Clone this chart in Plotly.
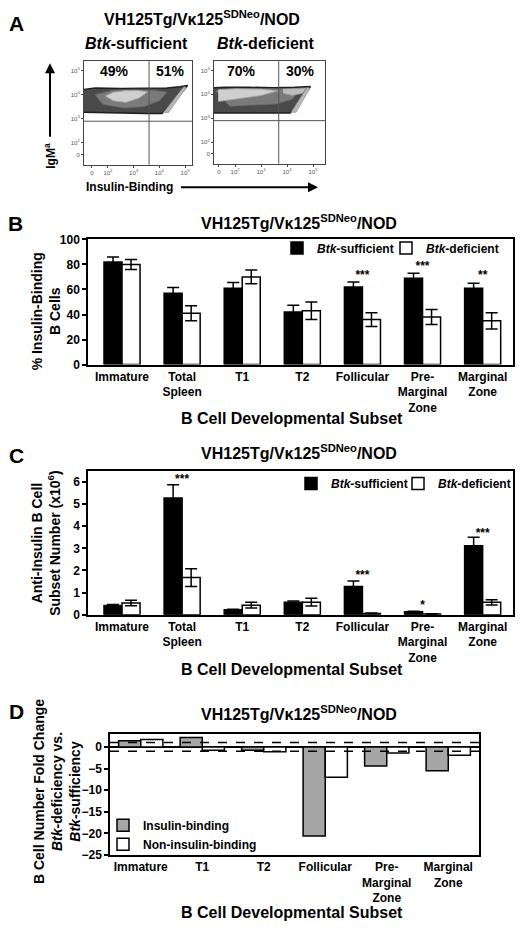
import plotly.graph_objects as go

W, H = 520, 933
FONT = "Liberation Sans, Arial, sans-serif"

# ---------------- data ----------------
# Panel A (flow cytometry, decade coordinates)
flow_xtick_vals = [1.38, 2, 3, 4, 5]
flow_ytick_vals = [1.51, 2, 3, 4, 5]
flow_tick_text = ["0", "10<sup>2</sup>", "10<sup>3</sup>", "10<sup>4</sup>", "10<sup>5</sup>"]
gate_x_suff = 3.6
gate_x_def = 3.68
gate_y = 2.9
pct_labels_suff = ["49%", "51%"]
pct_labels_def = ["70%", "30%"]

outer_suff_x = [1.07, 1.5, 2.5, 3.5, 4.3, 4.8, 5.1, 4.8, 4.4, 4.1, 3.5, 2.5, 1.5, 1.07]
outer_suff_y = [4.22, 4.28, 4.26, 4.27, 4.28, 4.33, 4.38, 4.0, 3.55, 3.22, 3.22, 3.24, 3.25, 3.27]
mid_suff_x = [1.5, 2.2, 3.0, 3.8, 4.3, 4.0, 3.4, 2.6, 1.8, 1.5]
mid_suff_y = [4.0, 4.18, 4.2, 4.18, 4.1, 3.75, 3.5, 3.45, 3.6, 4.0]
core_suff_x = [1.9, 2.2, 2.7, 3.2, 3.55, 3.2, 2.7, 2.2, 1.9]
core_suff_y = [3.95, 4.1, 4.17, 4.17, 4.12, 3.85, 3.68, 3.75, 3.95]
streak_suff_x = [4.15, 4.35, 5.05, 4.95, 4.15]
streak_suff_y = [3.25, 3.25, 4.3, 4.33, 3.25]

outer_def_x = [1.19, 1.6, 2.5, 3.5, 4.3, 4.75, 4.9, 4.65, 4.35, 4.12, 3.5, 2.5, 1.6, 1.19]
outer_def_y = [4.28, 4.3, 4.3, 4.28, 4.3, 4.3, 4.33, 3.95, 3.55, 3.22, 3.22, 3.22, 3.22, 3.22]
mid_def_x = [1.25, 2.0, 3.0, 3.9, 4.5, 4.2, 3.6, 2.6, 1.8, 1.25]
mid_def_y = [4.15, 4.24, 4.24, 4.24, 4.2, 3.8, 3.6, 3.55, 3.5, 4.15]
core_def_x = [1.35, 2.0, 3.0, 3.65, 3.0, 2.0, 1.35]
core_def_y = [4.2, 4.23, 4.22, 4.15, 3.95, 3.78, 3.7]
patch_def_x = [3.85, 4.3, 4.75, 4.6, 4.2, 3.85]
patch_def_y = [4.22, 4.26, 4.27, 4.05, 3.95, 4.05]
streak_def_x = [4.15, 4.35, 4.88, 4.78, 4.15]
streak_def_y = [3.25, 3.25, 4.25, 4.3, 3.25]

# Panels B and C
categories_bc = ["Immature", "Total<br>Spleen", "T1", "T2", "Follicular",
                 "Pre-<br>Marginal<br>Zone", "Marginal<br>Zone"]
pct_suff = [82, 57, 61, 42, 62, 69, 61]
pct_suff_err = [4, 4.5, 4.5, 5.5, 4, 4, 4]
pct_def = [80, 41, 70, 43, 36, 38, 35]
pct_def_err = [4, 6, 5.5, 7, 5.5, 6, 6.5]
pct_stars = ["", "", "", "", "***", "***", "**"]
pct_star_y = [None, None, None, None, 71, 78, 71]

num_suff = [0.42, 5.28, 0.22, 0.57, 1.28, 0.13, 3.12]
num_suff_err = [0.04, 0.6, 0.03, 0.05, 0.25, 0.03, 0.38]
num_def = [0.53, 1.68, 0.43, 0.57, 0.06, 0.03, 0.56]
num_def_err = [0.12, 0.4, 0.13, 0.18, 0.02, 0.01, 0.12]
num_stars = ["", "***", "", "", "***", "*", "***"]
num_star_y = [None, 6.1, None, None, 1.75, 0.38, 3.65]

# Panel D
categories_d = ["Immature", "T1", "T2", "Follicular",
                "Pre-<br>Marginal<br>Zone", "Marginal<br>Zone"]
fold_ins = [1.4, 2.2, -0.8, -20.6, -4.4, -5.5]
fold_non = [1.7, -0.8, -1.1, -7.0, -1.4, -1.9]
fold_thresholds = [1, -1]

TITLE = "VH125Tg/Vκ125<sup>SDNeo</sup>/NOD"


def xd(a, b):
    return [a / W, b / W]


def yd(top, bottom):
    return [1 - bottom / H, 1 - top / H]


def px(x):
    return x / W


def py(y):
    return 1 - y / H


fig = go.Figure()


# ---------------- Panel A polygons ----------------
def poly(xs, ys, fill, line, lw, xa, ya):
    fig.add_trace(go.Scatter(x=xs, y=ys, mode="lines", fill="toself", fillcolor=fill,
                             line=dict(color=line, width=lw), xaxis=xa, yaxis=ya,
                             showlegend=False, hoverinfo="skip"))


poly(outer_suff_x, outer_suff_y, "#4a4a4a", "#1e1e1e", 1.4, "x", "y")
poly(mid_suff_x, mid_suff_y, "#7a7a7a", "#6a6a6a", 0.6, "x", "y")
poly(core_suff_x, core_suff_y, "#cfcfcf", "#a0a0a0", 0.8, "x", "y")
poly(streak_suff_x, streak_suff_y, "#b8b8b8", "#888888", 0.6, "x", "y")

poly(outer_def_x, outer_def_y, "#4a4a4a", "#1e1e1e", 1.4, "x2", "y2")
poly(mid_def_x, mid_def_y, "#7a7a7a", "#6a6a6a", 0.6, "x2", "y2")
poly(core_def_x, core_def_y, "#cfcfcf", "#a0a0a0", 0.8, "x2", "y2")
poly(patch_def_x, patch_def_y, "#bdbdbd", "#9a9a9a", 0.6, "x2", "y2")
poly(streak_def_x, streak_def_y, "#b8b8b8", "#888888", 0.6, "x2", "y2")


def stars_trace(cats, ys, labels, xa, ya):
    sx = [c for c, s in zip(cats, labels) if s]
    sy = [v for v, s in zip(ys, labels) if s]
    st = [s for s in labels if s]
    fig.add_trace(go.Scatter(x=sx, y=sy, text=st, mode="text",
                             textfont=dict(size=12, color="black", family=FONT, weight="bold"),
                             xaxis=xa, yaxis=ya, showlegend=False, hoverinfo="skip"))


# ---------------- Panel B ----------------
bw_bc = 0.3
fig.add_trace(go.Bar(x=categories_bc, y=pct_suff, width=bw_bc, offset=-bw_bc,
                     marker=dict(color="black", line=dict(color="black", width=1.5)),
                     error_y=dict(type="data", array=pct_suff_err, color="black", thickness=1.5, width=6),
                     name="<i>Btk</i>-sufficient", xaxis="x3", yaxis="y3", legend="legend"))
fig.add_trace(go.Bar(x=categories_bc, y=pct_def, width=bw_bc, offset=0,
                     marker=dict(color="white", line=dict(color="black", width=1.5)),
                     error_y=dict(type="data", array=pct_def_err, color="black", thickness=1.5, width=6),
                     name="<i>Btk</i>-deficient", xaxis="x3", yaxis="y3", legend="legend4"))
stars_trace(categories_bc, pct_star_y, pct_stars, "x3", "y3")

# ---------------- Panel C ----------------
fig.add_trace(go.Bar(x=categories_bc, y=num_suff, width=bw_bc, offset=-bw_bc,
                     marker=dict(color="black", line=dict(color="black", width=1.5)),
                     error_y=dict(type="data", array=num_suff_err, color="black", thickness=1.5, width=6),
                     name="<i>Btk</i>-sufficient", xaxis="x4", yaxis="y4", legend="legend2"))
fig.add_trace(go.Bar(x=categories_bc, y=num_def, width=bw_bc, offset=0,
                     marker=dict(color="white", line=dict(color="black", width=1.5)),
                     error_y=dict(type="data", array=num_def_err, color="black", thickness=1.5, width=6),
                     name="<i>Btk</i>-deficient", xaxis="x4", yaxis="y4", legend="legend5"))
stars_trace(categories_bc, num_star_y, num_stars, "x4", "y4")

# ---------------- Panel D ----------------
bw_d = 0.36
fig.add_trace(go.Bar(x=categories_d, y=fold_ins, width=bw_d, offset=-bw_d,
                     marker=dict(color="#a6a6a6", line=dict(color="black", width=1.5)),
                     name="Insulin-binding", xaxis="x5", yaxis="y5", legend="legend3"))
fig.add_trace(go.Bar(x=categories_d, y=fold_non, width=bw_d, offset=0,
                     marker=dict(color="white", line=dict(color="black", width=1.5)),
                     name="Non-insulin-binding", xaxis="x5", yaxis="y5", legend="legend3"))

# ---------------- axes ----------------
flow_ax = dict(showline=True, mirror=True, linecolor="#444444", linewidth=1, showgrid=False,
               zeroline=False, ticks="outside", ticklen=2, tickcolor="#444444",
               tickfont=dict(size=6, color="#555555", family=FONT))
fig.update_layout(
    xaxis=dict(domain=xd(84, 192), range=[1.07, 5.27], anchor="y",
               tickvals=flow_xtick_vals, ticktext=flow_tick_text, **flow_ax),
    yaxis=dict(domain=yd(55, 160), range=[1.1, 5.39], anchor="x",
               tickvals=flow_ytick_vals, ticktext=flow_tick_text, **flow_ax),
    xaxis2=dict(domain=xd(214, 325), range=[1.19, 5.46], anchor="y2",
                tickvals=flow_xtick_vals, ticktext=flow_tick_text, **flow_ax),
    yaxis2=dict(domain=yd(55, 159), range=[1.1, 5.39], anchor="x2",
                tickvals=flow_ytick_vals, ticktext=flow_tick_text, **flow_ax),
)

bar_x = dict(showline=True, mirror=True, linecolor="black", linewidth=1.5, showgrid=False,
             zeroline=False, ticks="", type="category",
             tickfont=dict(size=12, color="black", family=FONT, weight="bold"))
bar_y = dict(showline=True, mirror=True, linecolor="black", linewidth=1.5, showgrid=False,
             ticks="outside", ticklen=4, tickwidth=1.5, tickcolor="black",
             tickfont=dict(size=12, color="black", family=FONT, weight="bold"))
fig.update_layout(
    xaxis3=dict(domain=xd(88, 513), anchor="y3", range=[-0.566, 6.505], **bar_x),
    yaxis3=dict(domain=yd(236, 363), range=[0, 100], anchor="x3", tickvals=[0, 20, 40, 60, 80, 100],
                zeroline=False, **bar_y),
    xaxis4=dict(domain=xd(88, 513), anchor="y4", range=[-0.566, 6.505], **bar_x),
    yaxis4=dict(domain=yd(471, 617), range=[0, 6.5], anchor="x4", tickvals=[0, 1, 2, 3, 4, 5, 6],
                zeroline=False, **bar_y),
    xaxis5=dict(domain=xd(110, 479), anchor="y5", **bar_x),
    yaxis5=dict(domain=yd(738, 861), range=[-25, 3], anchor="x5", tickvals=[0, -5, -10, -15, -20, -25],
                zeroline=True, zerolinecolor="black", zerolinewidth=1.5, **bar_y),
)

shapes = []
# flow gates
shapes.append(dict(type="line", xref="x", yref="y domain", x0=gate_x_suff, x1=gate_x_suff, y0=0, y1=1,
                   line=dict(color="#555555", width=1)))
shapes.append(dict(type="line", xref="x domain", yref="y", x0=0, x1=1, y0=gate_y, y1=gate_y,
                   line=dict(color="#555555", width=1)))
shapes.append(dict(type="line", xref="x2", yref="y2 domain", x0=gate_x_def, x1=gate_x_def, y0=0, y1=1,
                   line=dict(color="#555555", width=1)))
shapes.append(dict(type="line", xref="x2 domain", yref="y2", x0=0, x1=1, y0=gate_y, y1=gate_y,
                   line=dict(color="#555555", width=1)))
for t in fold_thresholds:
    shapes.append(dict(type="line", xref="x5 domain", yref="y5", x0=0, x1=1, y0=t, y1=t,
                       line=dict(color="black", width=1.5, dash="dash"), layer="above"))
fig.update_layout(shapes=shapes)

# ---------------- annotations ----------------
ann = []


def text(x, y, s, size, angle=0, xanchor="center", yanchor="middle", color="black", bold=True):
    ann.append(dict(x=px(x), y=py(y), xref="paper", yref="paper", text=s, showarrow=False,
                    textangle=angle, xanchor=xanchor, yanchor=yanchor,
                    font=dict(size=size, color=color, family=FONT, weight="bold" if bold else "normal")))


# panel letters
text(16, 17, "A", 21)
text(15, 220, "B", 21)
text(16, 455, "C", 21)
text(16, 715, "D", 21)

# panel A
text(202, 11, TITLE, 16)
text(136, 37, "<i>Btk</i>-sufficient", 16)
text(266, 37, "<i>Btk</i>-deficient", 16)
text(114, 65, pct_labels_suff[0], 14)
text(170, 65, pct_labels_suff[1], 14)
text(241, 65, pct_labels_def[0], 14)
text(300, 65, pct_labels_def[1], 14)
text(50, 151, "IgM<sup>a</sup>", 12, angle=-90)
text(129, 183, "Insulin-Binding", 12)
ann.append(dict(x=px(50), y=py(57), xref="paper", yref="paper", text=" ", showarrow=True,
                ax=0, ay=82, arrowhead=2, arrowsize=1, arrowwidth=2, arrowcolor="black"))
ann.append(dict(x=px(318), y=py(183), xref="paper", yref="paper", text=" ", showarrow=True,
                ax=-140, ay=0, arrowhead=2, arrowsize=1, arrowwidth=2, arrowcolor="black"))

# panel B
text(299, 218, TITLE, 16)
text(46, 309, "% Insulin-Binding<br>B Cells", 14, angle=-90)
text(292, 418, "B Cell Developmental Subset", 16)

# panel C
text(299, 452, TITLE, 16)
text(46, 544, "Anti-Insulin B Cell<br>Subset Number (x10<sup>6</sup>)", 14, angle=-90)
text(292, 673, "B Cell Developmental Subset", 16)

# panel D
text(299, 717, TITLE, 16)
text(57, 797, "B Cell Number Fold Change<br><i>Btk</i>-deficiency vs.<br><i>Btk</i>-sufficiency", 14, angle=-90)
text(292, 919, "B Cell Developmental Subset", 16)

fig.update_layout(annotations=ann)

leg_common = dict(bgcolor="rgba(0,0,0,0)", xanchor="left", yanchor="top",
                  font=dict(size=12, color="black", family=FONT, weight="bold"),
                  itemclick=False, itemdoubleclick=False)
fig.update_layout(
    legend=dict(x=px(277), y=py(230), orientation="h", **leg_common),
    legend4=dict(x=px(386), y=py(230), orientation="h", **leg_common),
    legend2=dict(x=px(291), y=py(469), orientation="h", **leg_common),
    legend5=dict(x=px(398), y=py(469), orientation="h", **leg_common),
    legend3=dict(x=px(103), y=py(816), orientation="v", tracegroupgap=0, **leg_common),
)

fig.update_layout(width=W, height=H, margin=dict(l=0, r=0, t=0, b=0),
                  paper_bgcolor="white", plot_bgcolor="white", barmode="group",
                  font=dict(family=FONT, color="black"))

fig.write_html("out.html", config={"displayModeBar": False},
               post_script="document.body.style.margin='0';document.body.style.overflow='hidden';")
